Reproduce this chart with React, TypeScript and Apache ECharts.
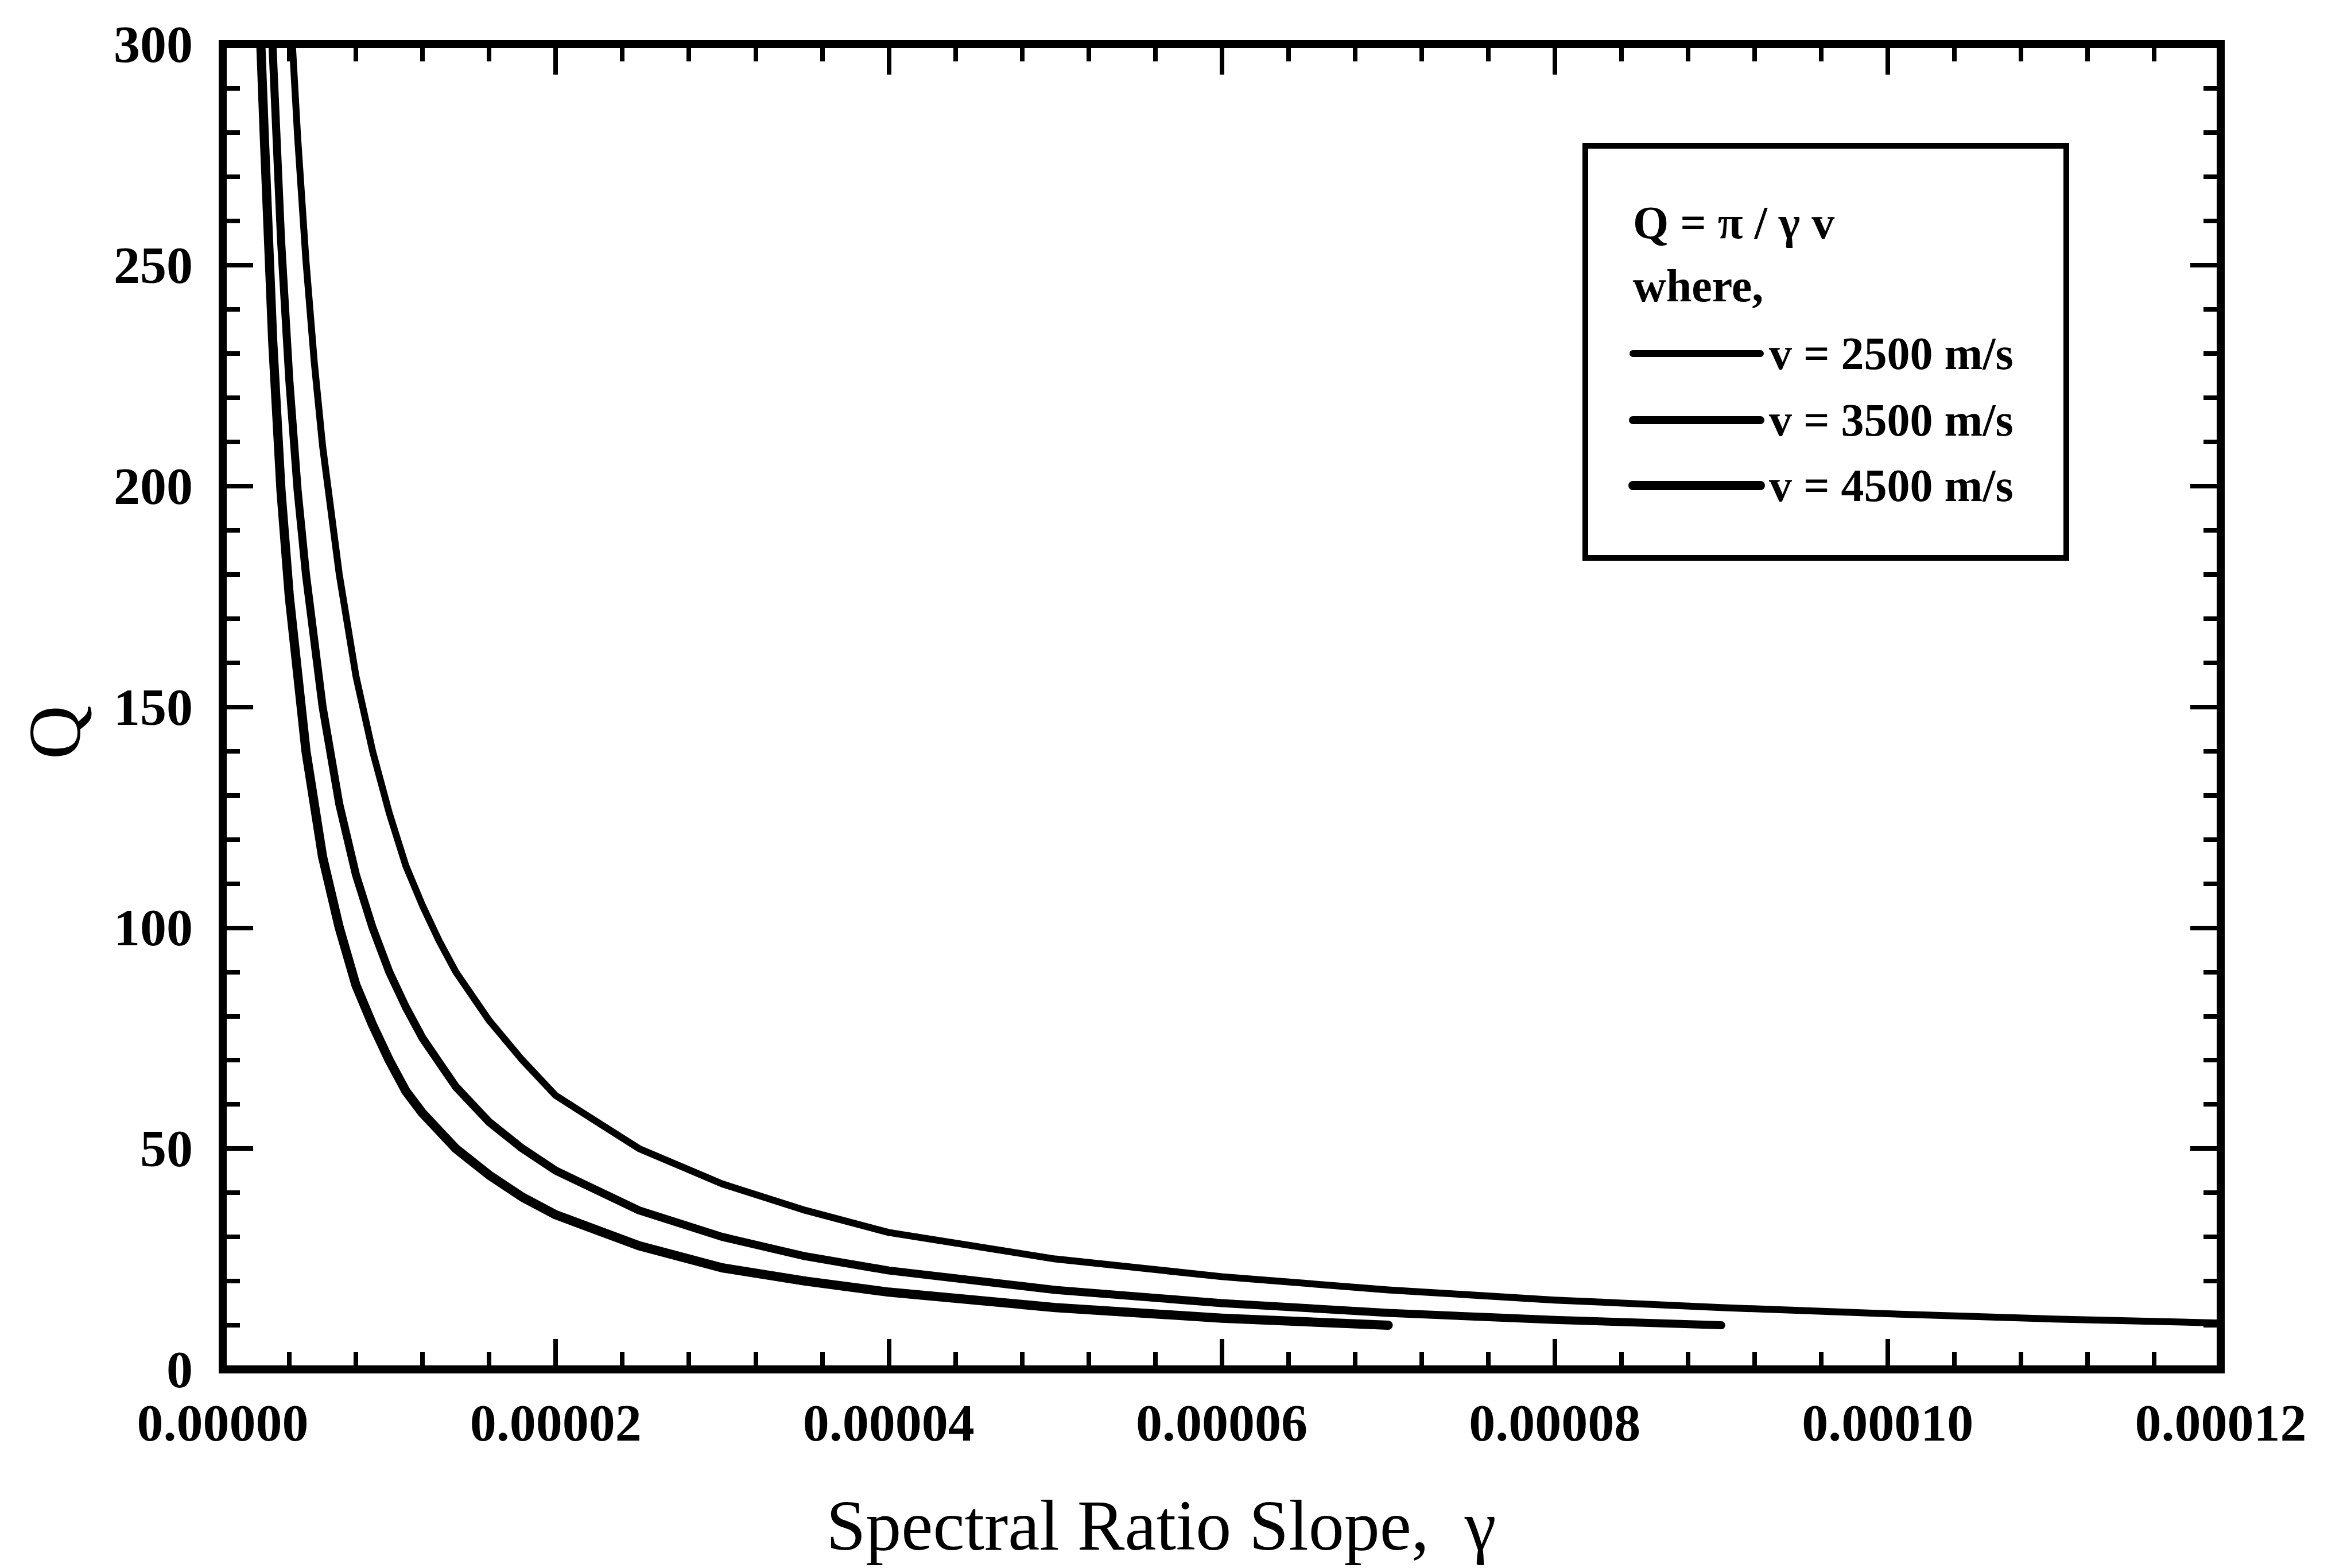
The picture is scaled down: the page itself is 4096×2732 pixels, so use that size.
import React, { useEffect, useRef } from "react";
import * as echarts from "echarts";

const W = 4096;
const H = 2732;
const FONT = '"Liberation Serif", "Times New Roman", serif';

// Q versus spectral ratio slope for three velocities
const gamma2500 = [0.0000042, 0.0000045, 0.000005, 0.0000055, 0.000006, 0.000007, 0.000008, 0.000009, 0.00001, 0.000011, 0.000012, 0.000013, 0.000014, 0.000016, 0.000018, 0.00002, 0.000025, 0.00003, 0.000035, 0.00004, 0.00005, 0.00006, 0.00007, 0.00008, 0.00009, 0.0001, 0.00011, 0.00012];
const q2500 = [299, 279, 251, 228, 209, 180, 157, 140, 126, 114, 105, 97, 90, 79, 70, 62, 50, 42, 36, 31, 25, 21, 18, 15.7, 14, 12.6, 11.4, 10.5];

const gamma3500 = [0.000003, 0.0000035, 0.000004, 0.0000045, 0.000005, 0.000006, 0.000007, 0.000008, 0.000009, 0.00001, 0.000011, 0.000012, 0.000014, 0.000016, 0.000018, 0.00002, 0.000025, 0.00003, 0.000035, 0.00004, 0.00005, 0.00006, 0.00007, 0.00008, 0.00009];
const q3500 = [299, 256, 224, 199, 180, 150, 128, 112, 100, 90, 82, 75, 64, 56, 50, 45, 36, 30, 25.6, 22.4, 18, 15, 12.8, 11.2, 10];

const gamma4500 = [0.0000023, 0.0000025, 0.000003, 0.0000035, 0.000004, 0.000005, 0.000006, 0.000007, 0.000008, 0.000009, 0.00001, 0.000011, 0.000012, 0.000014, 0.000016, 0.000018, 0.00002, 0.000025, 0.00003, 0.000035, 0.00004, 0.00005, 0.00006, 0.00007];
const q4500 = [299, 279, 233, 199, 175, 140, 116, 100, 87, 78, 70, 63, 58, 50, 44, 39, 35, 28, 23, 20, 17.5, 14, 11.6, 10];

const legendTitle = "Q = \u03c0 / \u03b3 v";
const legendWhere = "where,";
const legendLabels = ["v = 2500 m/s", "v = 3500 m/s", "v = 4500 m/s"];
const lineWidths = [12, 14, 16];

const xTitle = "Spectral Ratio Slope,\u00a0\u00a0\u03b3";
const yTitle = "Q";

const zip = (xs: number[], ys: number[]) => xs.map((x, i) => [x, ys[i]]);

const frameLine = { show: true, onZero: false, lineStyle: { color: "#000", width: 14, cap: "square" } };
const majorTick = { show: true, inside: true, length: 53, lineStyle: { color: "#000", width: 8 } };
const minorTick = { show: true, splitNumber: 5, length: 30, lineStyle: { color: "#000", width: 8 } };
const labelStyle = { color: "#000", fontFamily: FONT, fontWeight: "bold", fontSize: 92 };

function buildOption() {
  const xBase = {
    type: "value",
    min: 0,
    max: 0.00012,
    interval: 0.00002,
    axisLine: frameLine,
    axisTick: majorTick,
    minorTick,
    splitLine: { show: false },
    minorSplitLine: { show: false },
  };
  const yBase = {
    type: "value",
    min: 0,
    max: 300,
    interval: 50,
    axisLine: frameLine,
    axisTick: majorTick,
    minorTick,
    splitLine: { show: false },
    minorSplitLine: { show: false },
  };
  const seriesData = [zip(gamma2500, q2500), zip(gamma3500, q3500), zip(gamma4500, q4500)];

  const legendX0 = 2845;
  const legendX1 = 3067;
  const legendTextX = 3082;
  const legendRows = [616, 732, 846];

  return {
    animation: false,
    backgroundColor: "#fff",
    grid: { left: 388, right: W - 3869, top: 77, bottom: H - 2386, containLabel: false },
    xAxis: [
      {
        ...xBase,
        position: "bottom",
        axisLabel: { ...labelStyle, margin: 47, formatter: (v: number) => v.toFixed(5) },
      },
      { ...xBase, position: "top", axisLabel: { show: false } },
    ],
    yAxis: [
      { ...yBase, position: "left", axisLabel: { ...labelStyle, margin: 52 } },
      { ...yBase, position: "right", axisLabel: { show: false } },
    ],
    series: seriesData.map((d, i) => ({
      type: "line",
      data: d,
      symbol: "none",
      showSymbol: false,
      smooth: false,
      lineStyle: { color: "#000", width: lineWidths[i], cap: "round", join: "round" },
      z: 3,
    })),
    graphic: [
      {
        type: "rect",
        shape: { x: 2762, y: 254, width: 838, height: 718 },
        style: { fill: "#fff", stroke: "#000", lineWidth: 10 },
        z: 10,
      },
      {
        type: "text",
        style: { text: legendTitle, x: 2845, y: 388, font: `bold 80px ${FONT}`, fill: "#000", verticalAlign: "middle", align: "left" },
        z: 11,
      },
      {
        type: "text",
        style: { text: legendWhere, x: 2845, y: 498, font: `bold 80px ${FONT}`, fill: "#000", verticalAlign: "middle", align: "left" },
        z: 11,
      },
      ...legendLabels.flatMap((label, i) => [
        {
          type: "line",
          shape: { x1: legendX0, y1: legendRows[i], x2: legendX1, y2: legendRows[i] },
          style: { stroke: "#000", lineWidth: lineWidths[i], lineCap: "round" },
          z: 11,
        },
        {
          type: "text",
          style: { text: label, x: legendTextX, y: legendRows[i], font: `bold 80px ${FONT}`, fill: "#000", verticalAlign: "middle", align: "left" },
          z: 11,
        },
      ]),
      {
        type: "text",
        style: { text: xTitle, x: 2023, y: 2658, font: `124px ${FONT}`, fill: "#000", verticalAlign: "middle", align: "center" },
        z: 11,
      },
      {
        type: "text",
        x: 95,
        y: 1276,
        rotation: Math.PI / 2,
        style: { text: yTitle, x: 0, y: 0, font: `130px ${FONT}`, fill: "#000", verticalAlign: "middle", align: "center" },
        z: 11,
      },
    ],
  };
}

export default function App() {
  const ref = useRef<HTMLDivElement>(null);
  useEffect(() => {
    document.body.style.margin = "0";
    const chart = echarts.init(ref.current as HTMLDivElement, null, { renderer: "svg", width: W, height: H });
    chart.setOption(buildOption() as any);
    return () => chart.dispose();
  }, []);
  return <div ref={ref} style={{ width: W, height: H, background: "#fff" }} />;
}
